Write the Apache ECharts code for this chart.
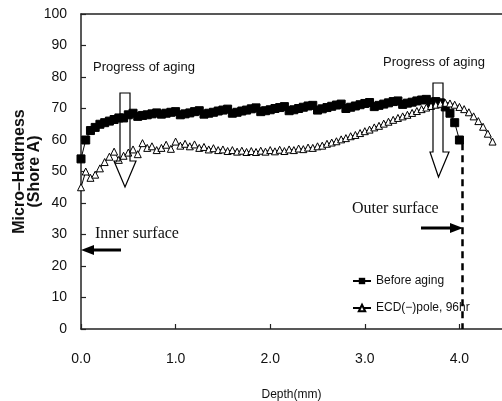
<!DOCTYPE html>
<html>
<head>
<meta charset="utf-8">
<script src="https://cdn.jsdelivr.net/npm/echarts@6/dist/echarts.min.js"></script>
<style>
  html, body { margin: 0; padding: 0; background: #fff; }
  #chart { width: 502px; height: 401px; }
</style>
</head>
<body>
<div id="chart"></div>
<script>
// Micro-hardness profiles across the wall thickness (depth in mm, Shore A)
const depthBefore = [
  0.00, 0.05, 0.10, 0.15, 0.20, 0.25, 0.30, 0.35, 0.40, 0.45,
  0.50, 0.55, 0.60, 0.65, 0.70, 0.75, 0.80, 0.85, 0.90, 0.95,
  1.00, 1.05, 1.10, 1.15, 1.20, 1.25, 1.30, 1.35, 1.40, 1.45,
  1.50, 1.55, 1.60, 1.65, 1.70, 1.75, 1.80, 1.85, 1.90, 1.95,
  2.00, 2.05, 2.10, 2.15, 2.20, 2.25, 2.30, 2.35, 2.40, 2.45,
  2.50, 2.55, 2.60, 2.65, 2.70, 2.75, 2.80, 2.85, 2.90, 2.95,
  3.00, 3.05, 3.10, 3.15, 3.20, 3.25, 3.30, 3.35, 3.40, 3.45,
  3.50, 3.55, 3.60, 3.65, 3.70, 3.75, 3.80, 3.85, 3.90, 3.95,
  4.00
];
const hardnessBefore = [
  54.0, 60.0, 63.0, 64.0, 65.0, 65.5, 66.0, 66.5, 67.0, 67.0,
  68.0, 68.5, 67.5, 67.8, 68.0, 68.3, 68.6, 68.2, 68.5, 68.8,
  69.0, 68.0, 68.3, 68.6, 69.0, 69.3, 68.2, 68.5, 68.8, 69.2,
  69.5, 69.8, 68.5, 68.8, 69.2, 69.5, 69.9, 70.2, 69.0, 69.3,
  69.6, 70.0, 70.3, 70.6, 69.3, 69.6, 70.0, 70.4, 70.8, 71.0,
  69.5, 69.9, 70.3, 70.7, 71.1, 71.4, 70.0, 70.4, 70.8, 71.2,
  71.6, 71.9, 70.6, 71.0, 71.4, 71.8, 72.2, 72.4, 71.3, 71.7,
  72.0, 72.4, 72.7, 72.9, 72.0, 72.2, 71.8, 70.5, 68.5, 65.5,
  60.0
];
const depthAged = [
  0.00, 0.05, 0.10, 0.15, 0.20, 0.25, 0.30, 0.35, 0.40, 0.45,
  0.50, 0.55, 0.60, 0.65, 0.70, 0.75, 0.80, 0.85, 0.90, 0.95,
  1.00, 1.05, 1.10, 1.15, 1.20, 1.25, 1.30, 1.35, 1.40, 1.45,
  1.50, 1.55, 1.60, 1.65, 1.70, 1.75, 1.80, 1.85, 1.90, 1.95,
  2.00, 2.05, 2.10, 2.15, 2.20, 2.25, 2.30, 2.35, 2.40, 2.45,
  2.50, 2.55, 2.60, 2.65, 2.70, 2.75, 2.80, 2.85, 2.90, 2.95,
  3.00, 3.05, 3.10, 3.15, 3.20, 3.25, 3.30, 3.35, 3.40, 3.45,
  3.50, 3.55, 3.60, 3.65, 3.70, 3.75, 3.80, 3.85, 3.90, 3.95,
  4.00, 4.05, 4.10, 4.15, 4.20, 4.25, 4.30, 4.35
];
const hardnessAged = [
  45.0, 50.0, 48.0, 49.0, 51.0, 53.0, 54.7, 56.3, 53.7, 55.0,
  56.0, 57.0, 55.5, 59.0, 57.5, 58.0, 56.8, 57.5, 58.5, 57.2,
  59.5, 58.2, 58.8, 58.0, 58.6, 57.5, 57.8, 57.0, 57.4, 56.8,
  57.0, 56.5, 56.8, 56.3, 56.6, 56.2, 56.5, 56.2, 56.6, 56.3,
  56.8, 56.4, 56.9, 56.5, 57.0, 56.8, 57.3, 57.1, 57.6, 57.5,
  58.0, 58.2, 58.8, 59.2, 59.6, 60.2, 60.6, 61.2, 61.6, 62.2,
  62.8, 63.3, 64.0, 64.5, 65.2, 65.8, 66.4, 67.0, 67.5, 68.0,
  68.6, 69.2, 69.8, 70.3, 70.8, 71.2, 71.5, 71.8, 71.6, 71.2,
  70.5, 69.8, 68.8, 67.5, 66.0, 64.2, 62.0, 59.5
];
const seriesNames = ['Before aging', 'ECD(\u2212)pole, 96hr'];
const xTicks = [0, 1, 2, 3, 4];
const xTickLabels = ['0.0', '1.0', '2.0', '3.0', '4.0'];
const outerSurfaceDepth = 4.03;
const outerSurfaceTop = 59;

const sans = "'Liberation Sans', Arial, sans-serif";
const serif = "'Liberation Serif', 'Times New Roman', serif";

const pair = (xs, ys) => xs.map((x, i) => [x, ys[i]]);

const chart = echarts.init(document.getElementById('chart'), null, { renderer: 'canvas' });

chart.setOption({
  animation: false,
  backgroundColor: '#fff',
  grid: { left: 81, right: 0, top: 14, bottom: 72, containLabel: false, outerBoundsMode: 'none' },
  legend: {
    orient: 'vertical',
    left: 352,
    top: 275,
    padding: 0,
    itemWidth: 18,
    itemHeight: 8,
    itemGap: 15,
    textStyle: { fontFamily: sans, fontSize: 12, color: '#111' },
    data: seriesNames
  },
  xAxis: [{
    type: 'value',
    min: 0,
    max: 4.45,
    interval: 1,
    position: 'bottom',
    name: 'Depth(mm)',
    nameLocation: 'middle',
    nameGap: 60,
    nameMoveOverlap: false,
    nameTextStyle: { fontFamily: sans, fontSize: 12, color: '#111' },
    axisLine: { lineStyle: { color: '#222', width: 1.5 } },
    axisTick: { inside: true, length: 5, lineStyle: { color: '#222', width: 1.2 } },
    axisLabel: {
      margin: 23,
      fontFamily: sans,
      fontSize: 14,
      color: '#111',
      showMaxLabel: false,
      formatter: v => { const i = xTicks.indexOf(v); return i >= 0 ? xTickLabels[i] : ''; }
    },
    splitLine: { show: false }
  }, {
    type: 'value',
    min: 0,
    max: 4.45,
    position: 'top',
    axisLine: { show: true, lineStyle: { color: '#222', width: 1.5 } },
    axisTick: { show: false },
    axisLabel: { show: false },
    splitLine: { show: false }
  }],
  yAxis: {
    type: 'value',
    min: 0,
    max: 100,
    interval: 10,
    name: 'Micro\u2013Hadrness\n(Shore A)',
    nameLocation: 'middle',
    nameRotate: 90,
    nameGap: 39,
    nameMoveOverlap: false,
    nameTextStyle: { fontFamily: sans, fontWeight: 'bold', fontSize: 16, color: '#111', lineHeight: 15 },
    axisLine: { show: true, lineStyle: { color: '#222', width: 1.5 } },
    axisTick: { inside: true, length: 5, lineStyle: { color: '#222', width: 1.2 } },
    axisLabel: { margin: 14, fontFamily: sans, fontSize: 14, color: '#111' },
    splitLine: { show: false }
  },
  series: [{
    name: seriesNames[0],
    type: 'line',
    data: pair(depthBefore, hardnessBefore),
    symbol: 'rect',
    symbolSize: 8,
    itemStyle: { color: '#000', borderColor: '#000' },
    lineStyle: { color: '#000', width: 1 },
    markLine: {
      silent: true,
      symbol: 'none',
      label: { show: false },
      lineStyle: { color: '#000', width: 2.5, type: [7, 5] },
      data: [[{ coord: [outerSurfaceDepth, outerSurfaceTop] }, { coord: [outerSurfaceDepth, 0] }]]
    },
    z: 3
  }, {
    name: seriesNames[1],
    type: 'line',
    data: pair(depthAged, hardnessAged),
    symbol: 'triangle',
    symbolSize: 7,
    showAllSymbol: true,
    itemStyle: { color: '#fff', borderColor: '#000', borderWidth: 1 },
    lineStyle: { color: '#000', width: 1 },
    z: 4
  }],
  graphic: [
    // hollow "progress of aging" arrows
    { type: 'polygon', z: 10, shape: { points: [[120, 93], [130, 93], [130, 161], [136, 161], [125, 187], [114, 161], [120, 161]] },
      style: { fill: 'none', stroke: '#000', lineWidth: 1.2 } },
    { type: 'polygon', z: 10, shape: { points: [[433, 83], [443, 83], [443, 152], [449, 152], [438.5, 177], [430, 152], [433, 152]] },
      style: { fill: 'none', stroke: '#000', lineWidth: 1.2 } },
    { type: 'text', z: 10, left: 93, top: 61, style: { text: 'Progress of aging', font: "13px " + sans, fill: '#111' } },
    { type: 'text', z: 10, left: 383, top: 56, style: { text: 'Progress of aging', font: "13px " + sans, fill: '#111' } },
    // surface markers
    { type: 'text', z: 10, left: 95, top: 226, style: { text: 'Inner surface', font: "16px " + serif, fill: '#111' } },
    { type: 'line', z: 10, shape: { x1: 121, y1: 250, x2: 92, y2: 250 }, style: { stroke: '#000', lineWidth: 3 } },
    { type: 'polygon', z: 10, shape: { points: [[81, 250], [94, 245], [94, 255]] }, style: { fill: '#000' } },
    { type: 'text', z: 10, left: 352, top: 201, style: { text: 'Outer surface', font: "16px " + serif, fill: '#111' } },
    { type: 'line', z: 10, shape: { x1: 421, y1: 228, x2: 452, y2: 228 }, style: { stroke: '#000', lineWidth: 3 } },
    { type: 'polygon', z: 10, shape: { points: [[463, 228], [450, 223], [450, 233]] }, style: { fill: '#000' } }
  ]
});
</script>
</body>
</html>
